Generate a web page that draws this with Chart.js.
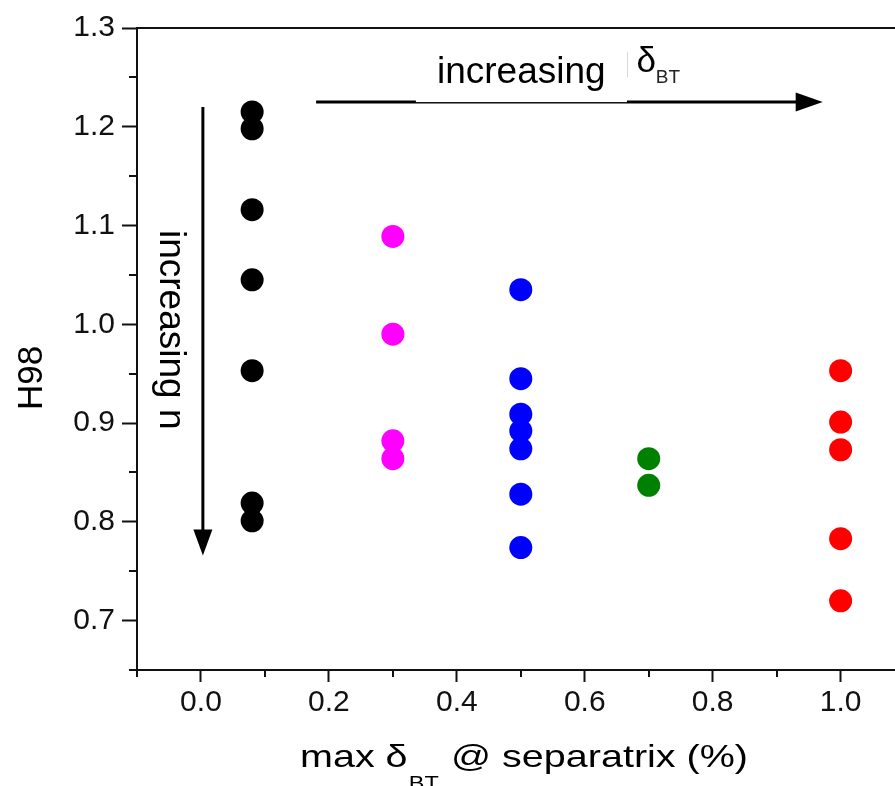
<!DOCTYPE html>
<html>
<head>
<meta charset="utf-8">
<script src="https://cdn.jsdelivr.net/npm/chart.js@4.4.1/dist/chart.umd.min.js"></script>
<style>
  html, body { margin: 0; padding: 0; background: #fff; overflow: hidden; }
  #wrap { width: 895px; height: 786px; }
</style>
</head>
<body>
<div id="wrap"><canvas id="h98Chart" width="895" height="786"></canvas></div>
<script>
// max delta_BT at separatrix (%) for each group of shots
let groupX = [0.08, 0.3, 0.5, 0.7, 1.0];

// H98 values, one array per group
let blackH98 = [1.215, 1.198, 1.116, 1.045, 0.953, 0.819, 0.801];
let magentaH98 = [1.089, 0.990, 0.882, 0.864];
let blueH98 = [1.035, 0.945, 0.909, 0.892, 0.874, 0.828, 0.774];
let greenH98 = [0.864, 0.837];
let redH98 = [0.953, 0.901, 0.873, 0.783, 0.720];

// tick labels
let xTickLabels = ["0.0", "0.2", "0.4", "0.6", "0.8", "1.0"];
let yTickLabels = ["0.7", "0.8", "0.9", "1.0", "1.1", "1.2", "1.3"];

const FONT = '"Liberation Sans", Arial, Helvetica, sans-serif';
const INK = "#111111";

function toPoints(x, values) {
  return values.map(function (v) {
    return { x: x, y: v };
  });
}

function isStep(value, step) {
  let k = value / step;
  return Math.abs(k - Math.round(k)) < 1e-6;
}

function xLabel(value) {
  let s = value.toFixed(1);
  return isStep(value, 0.2) && xTickLabels.includes(s) ? s : "";
}

function yLabel(value) {
  let s = value.toFixed(1);
  return isStep(value, 0.1) && yTickLabels.includes(s) ? s : "";
}

// keep the plot area flush with the right edge of the picture
function fitX(height) {
  return function (scale) {
    scale.height = height;
    scale.paddingLeft = 0;
    scale.paddingRight = 0;
  };
}

// short minor ticks (Chart.js has one tick length per axis)
const minorTicks = {
  id: "minorTicks",
  afterDraw(chart) {
    let c = chart.ctx;
    let xs = chart.scales.x;
    let ys = chart.scales.y;
    c.save();
    c.strokeStyle = INK;
    c.lineWidth = 2;
    c.beginPath();
    xs.ticks.forEach(function (t) {
      if (!isStep(t.value, 0.2)) {
        let px = Math.round(xs.getPixelForValue(t.value));
        c.moveTo(px, xs.top);
        c.lineTo(px, xs.top + 7);
      }
    });
    ys.ticks.forEach(function (t) {
      if (!isStep(t.value, 0.1)) {
        let py = Math.round(ys.getPixelForValue(t.value));
        c.moveTo(ys.right - 8, py);
        c.lineTo(ys.right, py);
      }
    });
    c.stroke();
    c.restore();
  }
};

// arrows, annotation text and axis titles
const annotations = {
  id: "annotations",
  afterDraw(chart) {
    let c = chart.ctx;
    let xs = chart.scales.x;
    let ys = chart.scales.y;
    let X = function (v) { return xs.getPixelForValue(v); };
    let Y = function (v) { return ys.getPixelForValue(v); };

    c.save();
    c.strokeStyle = "#000";
    c.fillStyle = "#000";
    c.lineWidth = 3;

    // horizontal arrow: increasing delta_BT
    let hy = Y(1.225);
    let hx0 = X(0.18), hx1 = X(0.972);
    c.beginPath();
    c.moveTo(hx0, hy);
    c.lineTo(hx1 - 22, hy);
    c.stroke();
    c.beginPath();
    c.moveTo(hx1, hy);
    c.lineTo(hx1 - 27, hy - 9.5);
    c.lineTo(hx1 - 27, hy + 9.5);
    c.closePath();
    c.fill();

    // white box behind "increasing" (covers top of the arrow line)
    c.fillStyle = "#fff";
    c.fillRect(X(0.336), Y(1.275), X(0.666) - X(0.336), hy - Y(1.275));
    c.strokeStyle = "#d8d8d8";
    c.lineWidth = 1;
    c.beginPath();
    c.moveTo(Math.round(X(0.666)) + 0.5, Y(1.276));
    c.lineTo(Math.round(X(0.666)) + 0.5, Y(1.25));
    c.stroke();

    c.fillStyle = "#000";
    c.textBaseline = "alphabetic";
    c.textAlign = "left";
    c.font = "37px " + FONT;
    c.fillText("increasing", X(0.369), Y(1.244));
    c.font = "35px " + FONT;
    c.fillText("\u03B4", X(0.681), Y(1.2555));
    c.font = "19px " + FONT;
    c.fillStyle = "#222";
    c.fillText("BT", X(0.711), Y(1.244));
    c.fillStyle = "#000";

    // vertical arrow: increasing n
    let vx = X(0.003);
    let vy0 = Y(1.22), vy1 = Y(0.766);
    c.strokeStyle = "#000";
    c.lineWidth = 3;
    c.beginPath();
    c.moveTo(vx, vy0);
    c.lineTo(vx, vy1 - 20);
    c.stroke();
    c.beginPath();
    c.moveTo(vx, vy1);
    c.lineTo(vx - 9.5, vy1 - 26);
    c.lineTo(vx + 9.5, vy1 - 26);
    c.closePath();
    c.fill();

    c.save();
    c.translate(X(-0.064), Y(1.0955));
    c.rotate(Math.PI / 2);
    c.font = "37px " + FONT;
    c.fillText("increasing n", 0, 0);
    c.restore();

    // y title
    c.save();
    c.translate(42, 378);
    c.rotate(-Math.PI / 2);
    c.textAlign = "center";
    c.font = "35px " + FONT;
    c.fillText("H98", 0, 0);
    c.restore();

    // x title with subscript, stretched to the original width
    let big = "32px " + FONT;
    let small = "19px " + FONT;
    c.font = big;
    let w1 = c.measureText("max ").width;
    let w2 = c.measureText("\u03B4").width;
    let w4 = c.measureText(" @ separatrix (%)").width;
    c.font = small;
    let w3 = c.measureText("BT").width + 2;
    let stretch = 448 / (w1 + w2 + w3 + w4);
    c.save();
    c.translate(300, 767);
    c.scale(stretch, 1);
    c.font = big;
    c.fillText("max ", 0, 0);
    c.fillText("\u03B4", w1, 0);
    c.font = small;
    c.fillText("BT", w1 + w2 + 1, 22);
    c.font = big;
    c.fillText(" @ separatrix (%)", w1 + w2 + w3, 0);
    c.restore();

    c.restore();
  }
};

let ctx = document.getElementById("h98Chart").getContext("2d");

let h98Chart = new Chart(ctx, {
  type: "scatter",
  data: {
    datasets: [
      { data: toPoints(groupX[0], blackH98), backgroundColor: "#000000" },
      { data: toPoints(groupX[1], magentaH98), backgroundColor: "#ff00ff" },
      { data: toPoints(groupX[2], blueH98), backgroundColor: "#0000ff" },
      { data: toPoints(groupX[3], greenH98), backgroundColor: "#008000" },
      { data: toPoints(groupX[4], redH98), backgroundColor: "#ff0000" },
    ],
  },
  options: {
    responsive: false,
    animation: false,
    events: [],
    layout: {
      autoPadding: false,
      padding: { top: 28, right: 0, left: 0, bottom: 0 },
    },
    elements: {
      point: { radius: 11.5, hoverRadius: 11.5, borderWidth: 0 },
    },
    plugins: {
      legend: { display: false },
      tooltip: { enabled: false },
    },
    scales: {
      x: {
        type: "linear",
        position: "bottom",
        min: -0.1,
        max: 1.085,
        afterFit: fitX(116),
        ticks: {
          stepSize: 0.1,
          includeBounds: false,
          autoSkip: false,
          maxRotation: 0,
          padding: 3,
          color: INK,
          font: { family: FONT, size: 30 },
          callback: xLabel,
        },
        grid: {
          drawOnChartArea: false,
          drawTicks: true,
          tickLength: 12,
          tickWidth: 2,
          tickColor: function (c) {
            return c.tick && isStep(c.tick.value, 0.2) ? INK : "rgba(0,0,0,0)";
          },
        },
        border: { display: true, color: INK, width: 2 },
      },
      xTop: {
        type: "linear",
        position: "top",
        min: -0.1,
        max: 1.085,
        afterFit: fitX(0),
        ticks: { display: false },
        grid: { display: false },
        border: { display: true, color: INK, width: 2 },
      },
      y: {
        type: "linear",
        min: 0.65,
        max: 1.3,
        afterFit: function (scale) { scale.width = 137; },
        ticks: {
          stepSize: 0.05,
          autoSkip: false,
          padding: 7,
          color: INK,
          font: { family: FONT, size: 30 },
          callback: yLabel,
        },
        grid: {
          drawOnChartArea: false,
          drawTicks: true,
          tickLength: 15,
          tickWidth: 2,
          tickColor: function (c) {
            return c.tick && isStep(c.tick.value, 0.1) ? INK : "rgba(0,0,0,0)";
          },
        },
        border: { display: true, color: INK, width: 2 },
      },
    },
  },
  plugins: [minorTicks, annotations],
});
</script>
</body>
</html>
